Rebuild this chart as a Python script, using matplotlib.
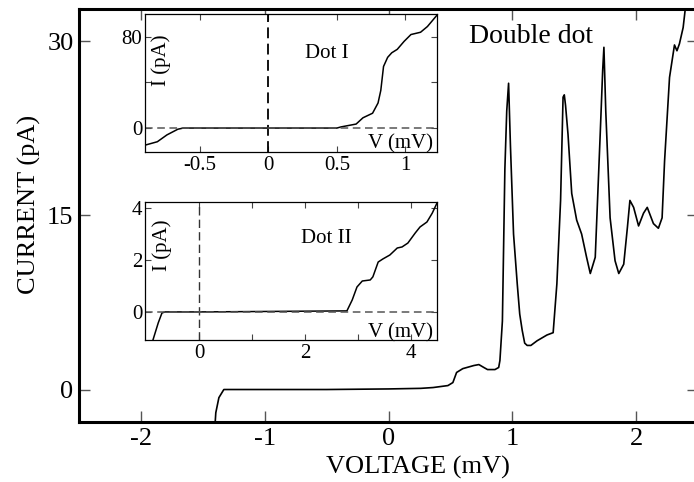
import matplotlib
matplotlib.use("Agg")
import matplotlib.pyplot as plt

plt.rcParams['font.family'] = ['Liberation Serif', 'DejaVu Serif']

# ---------------- data ----------------
main_v = [-1.40, -1.395, -1.37, -1.33, -1.0, -0.5, 0.0, 0.26, 0.36, 0.48, 0.52, 0.55,
          0.60, 0.69, 0.73, 0.77, 0.80, 0.86, 0.89, 0.90, 0.91, 0.92, 0.94, 0.955,
          0.97, 0.985, 1.01, 1.04, 1.06, 1.08, 1.10, 1.12, 1.15, 1.20, 1.28, 1.33,
          1.36, 1.39, 1.41, 1.42, 1.43, 1.45, 1.48, 1.52, 1.56, 1.60, 1.63, 1.67,
          1.71, 1.73, 1.74, 1.755, 1.79, 1.83, 1.86, 1.90, 1.93, 1.95, 1.98, 2.02,
          2.06, 2.09, 2.14, 2.18, 2.21, 2.23, 2.27, 2.31, 2.33, 2.35, 2.38, 2.41]
main_i = [-2.84, -2.0, -0.7, 0.0, 0.0, 0.0, 0.05, 0.1, 0.17, 0.34, 0.6, 1.47,
          1.8, 2.07, 2.15, 1.9, 1.72, 1.72, 1.9, 2.5, 4.2, 5.9, 19.0, 24.0,
          26.4, 21.0, 13.4, 9.1, 6.5, 5.1, 4.0, 3.8, 3.8, 4.2, 4.7, 4.9,
          9.1, 16.3, 25.2, 25.4, 24.5, 22.0, 16.9, 14.6, 13.4, 11.4, 10.0, 11.4,
          22.0, 27.5, 29.5, 24.0, 14.8, 11.1, 10.0, 10.8, 14.0, 16.3, 15.7, 14.1,
          15.2, 15.7, 14.3, 13.9, 14.8, 19.7, 26.9, 29.7, 29.2, 29.8, 31.2, 34.0]

dot1_v = [-0.90, -0.81, -0.74, -0.66, -0.62, 0.0, 0.50, 0.53, 0.64, 0.69, 0.76,
          0.80, 0.82, 0.84, 0.87, 0.90, 0.94, 0.99, 1.04, 1.11, 1.16, 1.23]
dot1_i = [-15, -12, -6, -1, 0, 0, 0, 1, 3.5, 9, 13,
          22, 33, 54, 62, 66, 69, 76, 82, 84, 89, 99]

dot2_v = [-0.90, -0.87, -0.77, -0.70, -0.64, 0.0, 2.79, 2.89, 2.98, 3.08, 3.23,
          3.28, 3.38, 3.47, 3.60, 3.74, 3.83, 3.94, 4.08, 4.17, 4.30, 4.40, 4.49]
dot2_i = [-1.3, -1.08, -0.42, -0.04, 0, 0, 0.04, 0.46, 0.96, 1.19, 1.23,
          1.35, 1.92, 2.04, 2.19, 2.46, 2.5, 2.65, 3.04, 3.27, 3.46, 3.8, 4.19]

main_xticks = [-2, -1, 0, 1, 2]
main_yticks = [0, 15, 30]
dot1_xticks = [-0.5, 0, 0.5, 1]
dot1_xticklabels = ['-0.5', '0', '0.5', '1']
dot1_yticks = [0, 40, 80]
dot1_yticklabels = ['0', '', '80']
dot2_xticks = [0, 1, 2, 3, 4]
dot2_xticklabels = ['0', '', '2', '', '4']
dot2_yticks = [0, 2, 4]

# ---------------- figure ----------------
W, H = 694, 482
fig = plt.figure(figsize=(W / 100, H / 100), dpi=100)


def box(l, t, r, b):
    return [l / W, 1 - b / H, (r - l) / W, (b - t) / H]


def fx(x):
    return x / W


def fy(y):
    return 1 - y / H


ax = fig.add_axes(box(79, 9, 698, 422))
ax.plot(main_v, main_i, color='black', lw=1.2, solid_joinstyle='round')
ax.set_xlim(-2.5, 2.5)
ax.set_ylim(-2.8, 32.8)
ax.set_xticks(main_xticks)
ax.set_xticklabels([str(t) for t in main_xticks])
ax.set_yticks(main_yticks)
ax.tick_params(direction='in', length=8, width=1.0, top=True, right=True,
               labelsize=19, color='#555555')
ax.tick_params(axis='x', pad=4)
ax.tick_params(axis='y', pad=4)
for s in ax.spines.values():
    s.set_linewidth(2.2)
ax.spines['right'].set_visible(False)

fig.text(fx(418), fy(467), 'VOLTAGE (mV)', ha='center', va='center', fontsize=19)
fig.text(fx(29), fy(204), 'CURRENT (pA)', ha='center', va='center', fontsize=19,
         rotation=90)
fig.text(fx(531), fy(43), 'Double dot', ha='center', va='baseline', fontsize=20)


def style_inset(a):
    for s in a.spines.values():
        s.set_linewidth(0.9)
    a.tick_params(direction='in', length=4, width=0.8, top=True, right=True,
                  labelsize=15, pad=3, color='#444444')


# inset 1
a1 = fig.add_axes(box(145, 14, 437, 152))
a1.plot(dot1_v, dot1_i, color='black', lw=1.1)
a1.axvline(0, color='black', lw=1.3, ls=(0, (6, 3)))
a1.axhline(0, color='#555555', lw=1.1, ls=(0, (5, 3)))
a1.set_xlim(-0.9, 1.23)
a1.set_ylim(-21, 100)
a1.set_xticks(dot1_xticks)
a1.set_xticklabels(dot1_xticklabels)
a1.set_yticks(dot1_yticks)
a1.set_yticklabels(dot1_yticklabels)
style_inset(a1)
a1.tick_params(axis='y', pad=2)
fig.text(fx(327), fy(58), 'Dot I', ha='center', va='baseline', fontsize=15)
fig.text(fx(161), fy(60), 'I (pA)', ha='center', va='center', fontsize=15, rotation=90)
fig.text(fx(400), fy(148), 'V (mV)', ha='center', va='baseline', fontsize=15)

# inset 2
a2 = fig.add_axes(box(145, 202, 437, 340))
a2.plot(dot2_v, dot2_i, color='black', lw=1.1)
a2.axvline(0, color='#333333', lw=1.0, ls=(0, (6, 3)))
a2.axhline(0, color='#555555', lw=1.1, ls=(0, (5, 3)))
a2.set_xlim(-1.02, 4.49)
a2.set_ylim(-1.08, 4.23)
a2.set_xticks(dot2_xticks)
a2.set_xticklabels(dot2_xticklabels)
a2.set_yticks(dot2_yticks)
style_inset(a2)
a2.tick_params(axis='y', pad=2)
fig.text(fx(326), fy(243), 'Dot II', ha='center', va='baseline', fontsize=15)
fig.text(fx(162), fy(245), 'I (pA)', ha='center', va='center', fontsize=15, rotation=90)
fig.text(fx(400), fy(337), 'V (mV)', ha='center', va='baseline', fontsize=15)

fig.savefig('out.png', dpi=100)
